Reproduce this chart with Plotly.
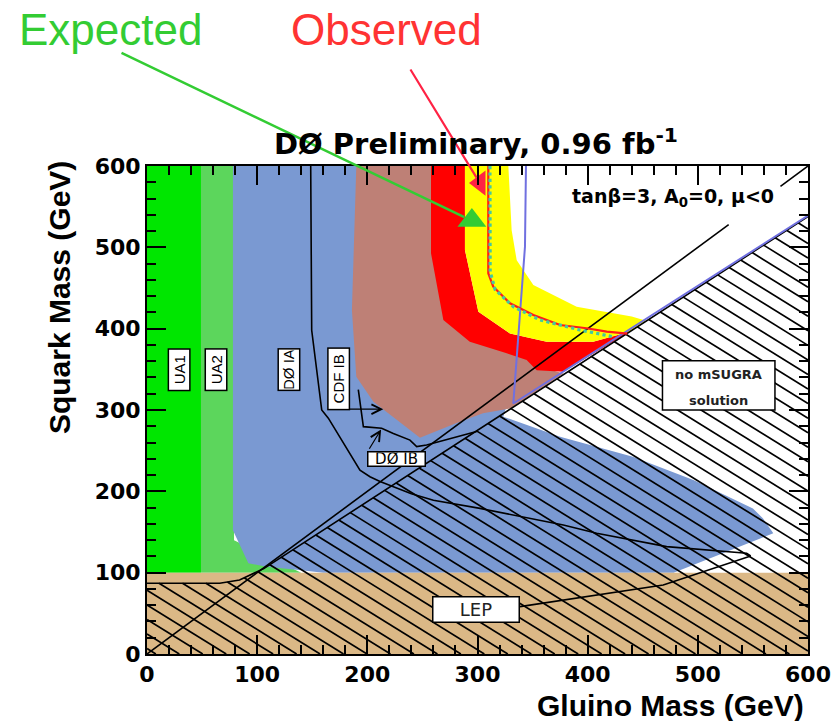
import numpy as np
import plotly.graph_objects as go

# ---------------- data (GeV) ----------------
ua1_x = [0, 0, 49, 49]
ua1_y = [100, 600, 600, 100]
ua2_x = [49, 49, 79, 79, 140]
ua2_y = [100, 600, 600, 140, 100]
d0ia_reg_x = [78, 78, 92, 108.6, 140, 160, 478, 568.5, 559, 550, 496, 441, 375, 323.4, 330, 250, 200]
d0ia_reg_y = [600, 152, 111.5, 107.4, 103, 100, 100, 148.4, 166.8, 179, 214, 242.6, 267, 291.8, 320, 320, 600]
brown_x = [190, 186, 190, 205.5, 247.8, 281, 305, 330, 378, 360, 330, 295, 272, 262, 262]
brown_y = [600, 423, 341, 310, 266, 284, 296, 302, 345, 352, 372, 388, 414, 492, 600]
red_x = [257.8, 257.8, 269, 293, 326.5, 344.6, 353.7, 378, 438, 405, 362.8, 329.5, 300.8, 288.6, 288.6]
red_y = [600, 492.6, 410.7, 384, 369.7, 361.5, 349, 347, 396.1, 384, 384, 394, 420.9, 496.7, 600]
yel_x = [288.6, 288.6, 300.8, 329.5, 362.8, 405, 438, 453, 440, 390, 350.7, 335.6, 331, 328]
yel_y = [600, 496.7, 420.9, 394, 384, 384, 396.1, 409.6, 415, 427, 453.7, 484, 521, 600]
lep_x = [0, 0, 600, 600]
lep_y = [0, 100, 100, 0]
nosol_x = [0, 0, 66, 84, 106, 600, 600]
nosol_y = [0, 87, 87, 91, 105, 538, 0]
purple_x = [344, 343.1, 332.5, 600]
purple_y = [600, 500.8, 308, 539]
obs_x = [309.8, 309.8, 314.3, 329.5, 350.7, 375, 399, 417.3, 436]
obs_y = [600, 468, 451.6, 431.2, 416.8, 404.5, 400.5, 396.3, 394]
exp_x = [311.3, 311.3, 311.5, 316, 332.5, 356.7, 393, 423.3]
exp_y = [600, 525, 470, 448, 427, 410.7, 398.4, 390]
d0ia_x = [148.6, 149.5, 158.6, 164.6, 193.3, 202.4, 211.5, 240, 260, 302.3, 377.9, 408.2, 471.7, 544.3, 548]
d0ia_y = [600, 398, 300, 290, 226, 218, 212, 197, 189, 179, 158.6, 148.4, 132, 123.8, 120.5]
lep_ptr_x = [548, 468.6, 338.6]
lep_ptr_y = [120.5, 84.8, 58.2]
d0ib_x = [191.8, 196.4, 213, 223.6, 238.7, 244.8, 253.8, 278, 300]
d0ib_y = [325, 279.5, 277.5, 271, 263, 255, 257, 266, 274]
diag_x = [0, 528, None, 575, 600]
diag_y = [0, 528, None, 575, 600]

HATCH_SLOPE = 0.84
HATCH_STEP = 21.3

C_UA1 = "#00e600"
C_UA2 = "#5cd65c"
C_BLUE = "#7a99d2"
C_BROWN = "#be8076"
C_RED = "#ff0000"
C_YEL = "#ffff00"
C_TAN = "#dbb886"


def hatch(px, py, m, step, phase=8.0):
    xs, ys = [], []
    n = len(px)
    for c in np.arange(phase, 600 + 600 / m + step, step):
        hits = []
        for i in range(n):
            x1, y1 = px[i], py[i]
            x2, y2 = px[(i + 1) % n], py[(i + 1) % n]
            f1 = y1 + m * (x1 - c)
            f2 = y2 + m * (x2 - c)
            if (f1 < 0) != (f2 < 0):
                t = f1 / (f1 - f2)
                hits.append(x1 + t * (x2 - x1))
        hits.sort()
        for a, b in zip(hits[0::2], hits[1::2]):
            xs += [a, b, None]
            ys += [-m * (a - c), -m * (b - c), None]
    return xs, ys


fig = go.Figure()


def region(x, y, color):
    fig.add_trace(go.Scatter(x=x, y=y, fill="toself", fillcolor=color, mode="lines",
                             line=dict(width=0, color=color), hoverinfo="skip", showlegend=False))


def curve(x, y, color="black", width=1.6, dash=None):
    fig.add_trace(go.Scatter(x=x, y=y, mode="lines", line=dict(color=color, width=width, dash=dash),
                             hoverinfo="skip", showlegend=False))


region(ua1_x, ua1_y, C_UA1)
region(ua2_x, ua2_y, C_UA2)
region(d0ia_reg_x, d0ia_reg_y, C_BLUE)
region(brown_x, brown_y, C_BROWN)
region(red_x, red_y, C_RED)
region(yel_x, yel_y, C_YEL)
region(lep_x, lep_y, C_TAN)

hx, hy = hatch(nosol_x, nosol_y, HATCH_SLOPE, HATCH_STEP)
curve(hx, hy, "black", 1.7)
curve(nosol_x[1:6], nosol_y[1:6], "black", 1.6)
curve(diag_x, diag_y, "black", 1.6)
curve(d0ia_x, d0ia_y, "black", 1.6)
curve(lep_ptr_x, lep_ptr_y, "black", 1.6)
curve(d0ib_x, d0ib_y, "black", 1.6)
curve(purple_x, purple_y, "#7070e0", 2)
curve(obs_x, obs_y, "#ff1a1a", 2.2)
curve(exp_x, exp_y, "#45c8a0", 3.2, "dot")

# arrow heads for Expected / Observed call-outs
fig.add_trace(go.Scatter(x=[294.9], y=[533], mode="markers", cliponaxis=False,
                         marker=dict(symbol="triangle-up", size=25, color="#33cc33"),
                         hoverinfo="skip", showlegend=False))
fig.add_trace(go.Scatter(x=[302.3], y=[579], mode="markers", cliponaxis=False,
                         marker=dict(symbol="triangle-left", size=22, color="#ff2244"),
                         hoverinfo="skip", showlegend=False))

ann = []
# call-out lines
ann.append(dict(x=288, y=537, ax=-24.5, ay=740, xref="x", yref="y", axref="x", ayref="y",
                text="", showarrow=True, arrowhead=0, arrowwidth=2.5, arrowcolor="#33cc33"))
ann.append(dict(x=299, y=586, ax=238.3, ay=720.5, xref="x", yref="y", axref="x", ayref="y",
                text="", showarrow=True, arrowhead=0, arrowwidth=2.2, arrowcolor="#ff2244"))
ann.append(dict(x=-0.0545, y=1.2787, xref="paper", yref="paper", text="Expected", showarrow=False,
                xanchor="center", yanchor="middle",
                font=dict(family="Liberation Sans, Arial", size=44, color="#33cc33")))
ann.append(dict(x=0.363, y=1.2787, xref="paper", yref="paper", text="Observed", showarrow=False,
                xanchor="center", yanchor="middle",
                font=dict(family="Liberation Sans, Arial", size=44, color="#ff3333")))
# title and axis titles
ann.append(dict(x=0.497, y=1.05, xref="paper", yref="paper", showarrow=False,
                xanchor="center", yanchor="middle",
                text="<b>DØ Preliminary, 0.96 fb<sup>-1</sup></b>",
                font=dict(family="DejaVu Sans", size=29, color="black")))
ann.append(dict(x=-0.133, y=0.7295, xref="paper", yref="paper", showarrow=False, textangle=-90,
                xanchor="center", yanchor="middle",
                text="<b>Squark Mass (GeV)</b>",
                font=dict(family="Liberation Sans, Arial", size=30, color="black")))
ann.append(dict(x=0.997, y=-0.106, xref="paper", yref="paper", showarrow=False,
                xanchor="right", yanchor="middle",
                text="<b>Gluino Mass (GeV)</b>",
                font=dict(family="Liberation Sans, Arial", size=30, color="black")))
ann.append(dict(x=477.5, y=560.7, xref="x", yref="y", showarrow=False,
                xanchor="center", yanchor="middle",
                text="<b>tanβ=3, A<sub>0</sub>=0, μ&lt;0</b>",
                font=dict(family="DejaVu Sans", size=19, color="black")))

# rotated labels
box = dict(bgcolor="white", bordercolor="black", borderwidth=1.5, borderpad=1, showarrow=False,
           xref="x", yref="y", xanchor="center", yanchor="middle")
for txt, x, y, w in [("UA1", 29, 350, 38), ("UA2", 62.5, 350, 38), ("DØ IA", 128.7, 350, 38),
                     ("CDF IB", 173.6, 338, 58)]:
    ann.append(dict(box, x=x, y=y, text=txt, textangle=-90, width=w, height=18,
                    font=dict(family="Liberation Sans, Arial", size=15, color="black")))
ann.append(dict(box, x=226.6, y=239.7, text="DØ IB", width=56, height=13, borderpad=0,
                font=dict(family="DejaVu Sans", size=15, color="black")))
ann.append(dict(box, x=298.9, y=54.7, text="LEP", width=83, height=22,
                font=dict(family="DejaVu Sans", size=18, color="#222")))
# arrows to limit curves
ann.append(dict(x=214.5, y=301, ax=182.7, ay=301, xref="x", yref="y", axref="x", ayref="y", text="",
                showarrow=True, arrowhead=5, arrowsize=1.6, arrowwidth=1.2, arrowcolor="black"))
ann.append(dict(x=212.5, y=276, ax=201, ay=250.5, xref="x", yref="y", axref="x", ayref="y", text="",
                showarrow=True, arrowhead=5, arrowsize=1.6, arrowwidth=1.2, arrowcolor="black"))
# no mSUGRA solution
ann.append(dict(x=519, y=343.9, xref="x", yref="y", showarrow=False, text="<b>no mSUGRA</b>",
                xanchor="center", yanchor="middle",
                font=dict(family="DejaVu Sans", size=13, color="#222")))
ann.append(dict(x=519, y=312.3, xref="x", yref="y", showarrow=False, text="<b>solution</b>",
                xanchor="center", yanchor="middle",
                font=dict(family="DejaVu Sans", size=13, color="#222")))

shapes = [dict(type="rect", xref="x", yref="y", x0=467.9, x1=570, y0=300, y1=360.6,
               fillcolor="white", line=dict(color="black", width=1.5), layer="above")]

axis_common = dict(range=[0, 600], showgrid=False, zeroline=False, showline=True, linecolor="black",
                   linewidth=2, mirror="allticks", ticks="inside", ticklen=19, tickwidth=1.5,
                   tickcolor="black", tick0=0, dtick=100, automargin=False,
                   minor=dict(ticks="inside", ticklen=9, tickwidth=1.5, dtick=20, tickcolor="black"),
                   tickfont=dict(family="DejaVu Sans", size=22, color="black", weight="bold"))

fig.update_layout(
    width=834, height=721,
    margin=dict(l=147, r=26, t=166, b=67, autoexpand=False),
    paper_bgcolor="white", plot_bgcolor="white",
    xaxis=dict(axis_common),
    yaxis=dict(axis_common),
    annotations=ann,
    shapes=shapes,
    showlegend=False,
)

fig.write_html("out.html")
